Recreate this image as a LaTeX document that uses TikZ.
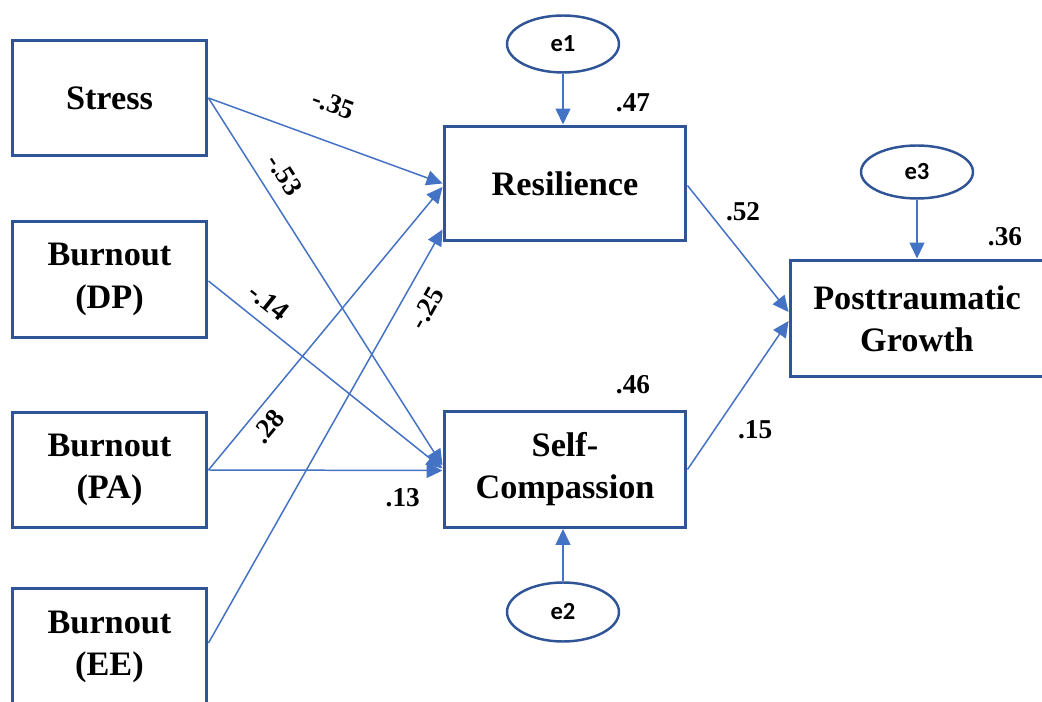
\documentclass[tikz,border=0pt]{standalone}
\usepackage{fontspec}
\setmainfont{Liberation Serif}
\newfontfamily\errfont{Carlito}
\usetikzlibrary{arrows.meta,shapes.geometric}
\definecolor{boxblue}{HTML}{2F5597}
\definecolor{arrowblue}{HTML}{4472C4}
\tikzset{
block/.style={
draw=boxblue,
line width=1.7pt,
minimum width=3.9cm,minimum height=2.3cm,align=center,
font={\fontsize{19.5pt}{24pt}\selectfont\bfseries}},
err/.style={ellipse,draw=boxblue,line width=1.4pt,
minimum width=2.24cm,minimum height=1.14cm,inner sep=0pt,
font={\errfont\fontsize{14pt}{16pt}\selectfont\bfseries}},
link/.style={draw=arrowblue,line width=0.85pt,-{Triangle[length=0.32cm,width=0.3cm]}},
coef/.style={inner sep=0pt,font={\fontsize{15.5pt}{18pt}\selectfont\bfseries}}
}

\begin{document}
\begin{tikzpicture}[x=0.02cm,y=-0.02cm]
  \useasboundingbox (0,0) rectangle (1042,702);
  \clip (0,0) rectangle (1042,702);
  % predictors
  \node[block] (stress) at (109.5,98) {Stress};
  \node[block, minimum height=2.32cm] (dp) at (109.5,279.5) {Burnout\\(DP)};
  \node[block, minimum height=2.32cm] (pa) at (109.5,470) {Burnout\\(PA)};
  \node[block, minimum height=2.36cm] (ee) at (109.5,647) {Burnout\\(EE)};
  % mediators and outcome
  \node[block, minimum width=4.84cm] (res) at (565,183.5) {Resilience};
  \node[block, minimum width=4.84cm, minimum height=2.32cm] (selfc) at (565,469.5) {Self-\\Compassion};
  \node[block, minimum width=5.08cm, minimum height=2.34cm] (ptg) at (917,318.5) {Posttraumatic\\Growth};
  % errors
  \node[err] (e1) at (563,44) {e1};
  \node[err, minimum height=1.18cm] (e2) at (563,612) {e2};
  \node[err, minimum height=1.06cm] (e3) at (917,172) {e3};
  \draw[link] (e1.south) -- (e1.south |- res.north);
  \draw[link] (e2.north) -- (e2.north |- selfc.south);
  \draw[link] (e3.south) -- (e3.south |- ptg.north);
  % paths
  \draw[link] (stress.east) -- (res.west) node[coef,pos=0.48,sloped,above=0.54cm] (c1) {-.35};
  \draw[link] (stress.east) -- ([yshift=0.08cm]selfc.west) node[coef,pos=0.243,sloped,above=0.26cm] (c2) {-.53};
  \draw[link] ([yshift=-0.03cm]dp.east) -- ([yshift=0.02cm]selfc.west) node[coef,pos=0.2,sloped,above=0.22cm] (c3) {-.14};
  \draw[link] (pa.east) -- ([yshift=-0.07cm]res.west) node[coef,pos=0.196,sloped,below=0.17cm] (c4) {.28};
  \draw[link] (pa.east) -- ([yshift=-0.02cm]selfc.west) node[coef,pos=0.83,below=0.34cm] (c5) {.13};
  \draw[link] ([yshift=0.08cm]ee.east) -- ([yshift=0.26cm]res.south west) node[coef,pos=0.839,sloped,below=0.3cm] (c6) {-.25};
  \draw[link] ([yshift=-0.04cm]res.east) -- ([yshift=0.13cm]ptg.west) node[coef,pos=0.55,above=0.66cm] (c7) {.52};
  \draw[link] (selfc.east) -- ([yshift=-0.05cm]ptg.west) node[coef,pos=0.67,below=1cm] (c8) {.15};
  % squared multiple correlations
  \node[coef] (r1) at (633,103) {.47};
  \node[coef] (r2) at (633,385) {.46};
  \node[coef] (r3) at (1005,237) {.36};
\end{tikzpicture}
\end{document}
